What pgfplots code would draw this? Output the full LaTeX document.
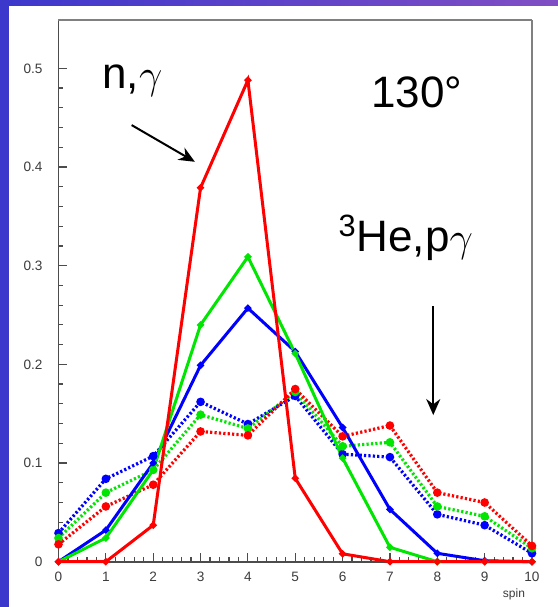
\documentclass[border=0pt]{standalone}
\usepackage{fontspec}
\setmainfont{Liberation Sans}
\usepackage{pgfplots}
\pgfplotsset{compat=1.18}
\usetikzlibrary{arrows.meta}

\definecolor{framebl}{RGB}{60,56,204}
\definecolor{framepu}{RGB}{128,78,196}
\definecolor{pred}{RGB}{255,0,0}
\definecolor{pgreen}{RGB}{0,230,0}
\definecolor{pblue}{RGB}{0,0,255}
\definecolor{ticktext}{RGB}{60,60,60}

\pgfplotsset{
  simline/.style={line width=1.6pt, dash pattern=on 1.1pt off 1.1pt,
                  mark=*, mark size=1.3pt, mark options={solid}},
  measline/.style={line width=1.5pt, mark=*, mark size=0.9pt},
}

\begin{document}
\begin{tikzpicture}
  % slide background and frame
  \path[use as bounding box] (-29.25pt,-22.65pt) rectangle (249.75pt,280.85pt);
  \fill[white] (-29.25pt,-22.65pt) rectangle (249.75pt,280.85pt);
  \fill[framebl] (-29.25pt,-22.65pt) rectangle (-24.75pt,280.85pt);
  \shade[left color=framebl, right color=framepu] (-29.25pt,278.35pt) rectangle (249.75pt,280.85pt);

  \begin{axis}[
    scale only axis,
    width=236.75pt, height=270.85pt,
    xmin=0, xmax=10, ymin=0, ymax=0.549,
    axis x line=bottom, axis y line=left,
    axis line style={-, draw=black!70, line width=0.8pt},
    xtick={0,1,...,10},
    ytick={0,0.1,0.2,0.3,0.4,0.5},
    minor x tick num=4, minor y tick num=4,
    tick align=inside,
    major tick length=4.5pt, minor tick length=2.5pt,
    every tick/.style={draw=black!70, line width=0.6pt},
    /pgf/number format/assume math mode=true,
    /pgf/number format/fixed,
    tick label style={font=\fontsize{6.8}{7}\selectfont, text=ticktext},
    yticklabel style={xshift=-4.5pt},
    xticklabel style={yshift=-1.5pt},
    clip=false,
  ]
    % simulated populations (dotted)
    \addplot[pblue, simline]
      coordinates {(0,0.029) (1,0.084) (2,0.107) (3,0.162) (4,0.1395) (5,0.168)
                   (6,0.109) (7,0.106) (8,0.048) (9,0.037) (10,0.0085)};
    \addplot[pgreen, simline]
      coordinates {(0,0.024) (1,0.070) (2,0.093) (3,0.149) (4,0.135) (5,0.172)
                   (6,0.117) (7,0.121) (8,0.056) (9,0.046) (10,0.0136)};
    \addplot[pred, simline]
      coordinates {(0,0.0176) (1,0.056) (2,0.078) (3,0.132) (4,0.128) (5,0.175)
                   (6,0.127) (7,0.138) (8,0.070) (9,0.060) (10,0.016)};
    % measured populations (solid)
    \addplot[pblue, measline]
      coordinates {(0,0) (1,0.032) (2,0.100) (3,0.199) (4,0.257) (5,0.213)
                   (6,0.136) (7,0.053) (8,0.0085) (9,0.001) (10,0)};
    \addplot[pgreen, measline]
      coordinates {(0,0) (1,0.024) (2,0.093) (3,0.240) (4,0.309) (5,0.211)
                   (6,0.105) (7,0.0146) (8,0) (9,0) (10,0)};
    \addplot[pred, measline]
      coordinates {(0,0) (1,0) (2,0.037) (3,0.379) (4,0.488) (5,0.0845)
                   (6,0.008) (7,0) (8,0) (9,0) (10,0)};

    % frame on top and right
    \draw[gray, line width=1pt, dash pattern=on 0.6pt off 0.4pt]
      (rel axis cs:0,1) -- (rel axis cs:1,1) -- (rel axis cs:1,0);

    % annotations
    \node[font=\fontsize{22}{24}\selectfont, anchor=base] at (axis cs:1.56,0.48) {n,$\gamma$};
    \node[font=\fontsize{22}{24}\selectfont, anchor=base] at (axis cs:7.57,0.4607) {130°};
    \node[font=\fontsize{22}{24}\selectfont, anchor=base] at (axis cs:7.335,0.314) {\textsuperscript{3}He,p$\gamma$};
    \draw[line width=1pt, -{Stealth[length=8pt,width=7pt]}] (axis cs:1.545,0.4425) -- (axis cs:2.88,0.4053);
    \draw[line width=1pt, -{Stealth[length=8pt,width=7pt]}] (axis cs:7.915,0.2591) -- (axis cs:7.915,0.1486);

    \node[font=\fontsize{6}{7}\selectfont, text=ticktext, anchor=base east]
      at ([yshift=-18pt]rel axis cs:1,0) {spin};
  \end{axis}
\end{tikzpicture}
\end{document}
